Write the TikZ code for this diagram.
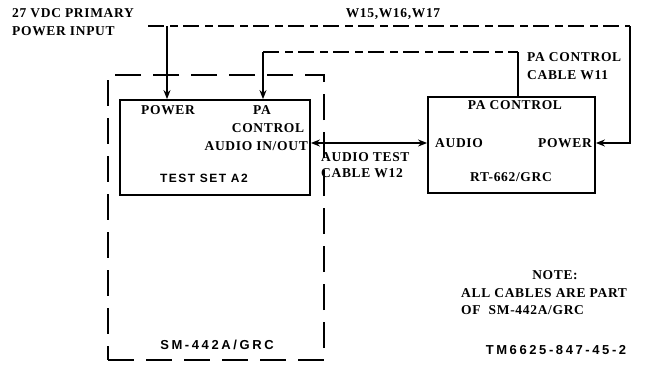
\documentclass[tikz,border=0pt]{standalone}
\usepackage{fontspec}
\setmainfont{Liberation Serif}[LetterSpace=5]
\newfontfamily\tfont{Liberation Sans}[LetterSpace=20]
\newfontfamily\tfontB{Liberation Sans}[LetterSpace=12]
\usetikzlibrary{arrows.meta}
\begin{document}
\begin{tikzpicture}[x=1pt,y=-1pt,
  lbl/.style={font=\fontsize{13.5}{14}\selectfont\bfseries, inner sep=0pt},
  tlbl/.style={font=\fontsize{12}{13}\selectfont\tfontB\bfseries, inner sep=0pt},
  tlblL/.style={font=\fontsize{13}{14}\selectfont\tfont\bfseries, inner sep=0pt},
  box/.style={draw, line width=1.8pt, inner sep=0pt},
  cable/.style={line width=1.6pt},
  dcable/.style={line width=1.3pt, dash pattern=on 16pt off 6pt on 8pt off 5pt},
  tip/.style={-{Stealth[length=9pt,width=7pt]}},
  tips/.style={{Stealth[length=9pt,width=7pt]}-{Stealth[length=9pt,width=7pt]}}]
\useasboundingbox (0,0) rectangle (646,368);
% boxes
\node[draw, line width=1.4pt, dash pattern=on 26pt off 12pt, minimum width=216pt, minimum height=285pt, inner sep=0pt] (sm) at (216,217.5) {};
\node[box, minimum width=190pt, minimum height=95pt] (ts) at (215,147.5) {};
\node[box, minimum width=167pt, minimum height=96pt] (rt) at (511.5,145) {};
% cable coordinates
\coordinate (wL) at (148,26);
\coordinate (wR) at (630,26);
\coordinate (wT) at (167,26);
\coordinate (pL) at (263,52);
\coordinate (pR) at (518,52);
\coordinate (aud) at (310,143);
% connectors
\draw[dcable] (wL) -- (wR);
\draw[cable, tip] (wR) |- (rt.east |- aud);
\draw[cable, tip] (wT) -- (wT |- ts.north);
\draw[dcable] (pL) -- (pR);
\draw[cable, tip] (pL) -- (pL |- ts.north);
\draw[cable] (pR) -- (pR |- rt.north);
\draw[cable, tips] (ts.east |- aud) -- (rt.west |- aud);
% texts
\node[lbl, anchor=west] (t1) at (12,13) {27 VDC PRIMARY};
\node[lbl, anchor=west] (t2) at (12,31) {POWER INPUT};
\node[lbl] (t3) at (393,14) {W15,W16,W17};
\node[lbl, anchor=west] (t4) at (527,57) {PA CONTROL};
\node[lbl, anchor=west] (t5) at (527,75) {CABLE W11};
\node[lbl, anchor=west] (t6) at (141,110) {POWER};
\node[lbl] (t7) at (262,110) {PA};
\node[lbl] (t8) at (268,128) {CONTROL};
\node[lbl, anchor=east] (t9) at (308,146) {AUDIO IN/OUT};
\node[tlbl] (t10) at (204,178) {TEST SET A2};
\node[lbl, anchor=west] (t11) at (321,157) {AUDIO TEST};
\node[lbl, anchor=west] (t12) at (321,173) {CABLE W12};
\node[lbl] (t13) at (515,105) {PA CONTROL};
\node[lbl, anchor=west] (t14) at (435,143) {AUDIO};
\node[lbl, anchor=east] (t15) at (592,143) {POWER};
\node[lbl] (t16) at (511,177) {RT-662/GRC};
\node[tlblL] (t17) at (217,345) {SM-442A/GRC};
\node[lbl] (t18) at (555,275) {NOTE:};
\node[lbl, anchor=west] (t19) at (461,293) {ALL CABLES ARE PART};
\node[lbl, anchor=west] (t20) at (461,310) {OF\ \ SM-442A/GRC};
\node[tlblL] (t21) at (556,350) {TM6625-847-45-2};
\end{tikzpicture}
\end{document}
